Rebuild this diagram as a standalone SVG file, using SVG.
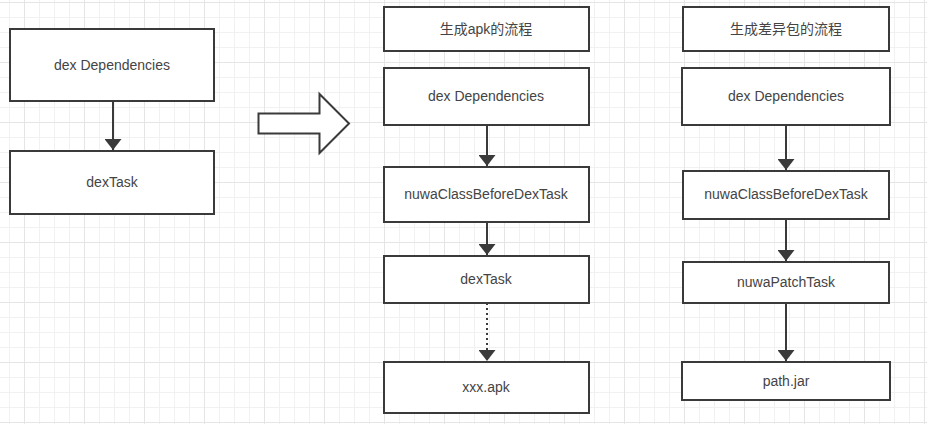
<svg xmlns="http://www.w3.org/2000/svg" width="927" height="424" viewBox="0 0 927 424">
<defs>
<pattern id="grid" x="24" y="2" width="60" height="60" patternUnits="userSpaceOnUse">
<path d="M15.5 0V60M30.5 0V60M45.5 0V60M0 15.5H60M0 30.5H60M0 45.5H60" stroke="#f1f1f1" stroke-width="1" fill="none"/>
<path d="M0.5 0V60M0 0.5H60" stroke="#e5e5e5" stroke-width="1" fill="none"/>
</pattern>
<marker id="ah" viewBox="0 0 11 17" refX="11" refY="8.5" markerWidth="11" markerHeight="17" markerUnits="userSpaceOnUse" orient="auto">
<path d="M0 0L11 8.5L0 17Z" fill="#3a3a3a"/>
</marker>
<style>
.box{fill:#fff;stroke:#3a3a3a;stroke-width:2}
.t{font-family:"Liberation Sans","Noto Sans CJK SC",sans-serif;font-size:14px;fill:#444;text-anchor:middle;dominant-baseline:central}
.c{stroke:#3a3a3a;stroke-width:2;fill:none;marker-end:url(#ah)}
</style>
</defs>
<rect width="927" height="424" fill="#fff"/>
<rect width="927" height="424" fill="url(#grid)"/>
<g id="connectors">
<line class="c" x1="113" y1="101" x2="113" y2="150"/>
<line class="c" x1="487" y1="125" x2="487" y2="166"/>
<line class="c" x1="487" y1="222" x2="487" y2="255"/>
<line class="c" x1="487" y1="303" x2="487" y2="361" stroke-dasharray="2 3"/>
<line class="c" x1="786" y1="125" x2="786" y2="170"/>
<line class="c" x1="786" y1="219" x2="786" y2="261"/>
<line class="c" x1="786" y1="303" x2="786" y2="361"/>
</g>
<g id="bigArrow">
<polygon points="258.5,113.5 319.5,113.5 319.5,94 349,123.5 319.5,153 319.5,133.5 258.5,133.5" fill="#fff" stroke="#3a3a3a" stroke-width="2"/>
</g>
<g id="l1"><rect class="box" x="10" y="29" width="204" height="72"/><text class="t" x="112" y="65">dex Dependencies</text></g>
<g id="l2"><rect class="box" x="10" y="151" width="204" height="63"/><text class="t" x="112" y="182">dexTask</text></g>
<g id="m0"><rect class="box" x="384" y="7" width="205" height="44"/><text class="t" x="486" y="29">生成apk的流程</text></g>
<g id="m1"><rect class="box" x="384" y="68" width="205" height="57"/><text class="t" x="486" y="96">dex Dependencies</text></g>
<g id="m2"><rect class="box" x="384" y="167" width="205" height="55"/><text class="t" x="486" y="194">nuwaClassBeforeDexTask</text></g>
<g id="m3"><rect class="box" x="384" y="256" width="205" height="47"/><text class="t" x="486" y="279">dexTask</text></g>
<g id="m4"><rect class="box" x="384" y="362" width="205" height="51"/><text class="t" x="486" y="387">xxx.apk</text></g>
<g id="r0"><rect class="box" x="683" y="7" width="206" height="44"/><text class="t" x="786" y="29">生成差异包的流程</text></g>
<g id="r1"><rect class="box" x="682" y="68" width="208" height="57"/><text class="t" x="786" y="96">dex Dependencies</text></g>
<g id="r2"><rect class="box" x="683" y="171" width="206" height="48"/><text class="t" x="786" y="194">nuwaClassBeforeDexTask</text></g>
<g id="r3"><rect class="box" x="683" y="262" width="206" height="41"/><text class="t" x="786" y="282">nuwaPatchTask</text></g>
<g id="r4"><rect class="box" x="682" y="362" width="208" height="38"/><text class="t" x="786" y="381">path.jar</text></g>
</svg>
